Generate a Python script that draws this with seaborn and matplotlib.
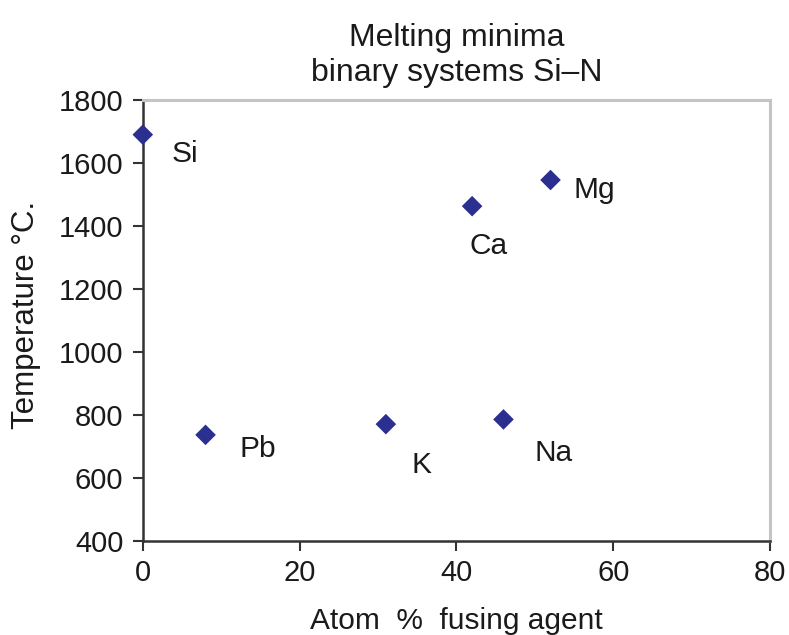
import matplotlib
matplotlib.use("Agg")
import matplotlib.pyplot as plt
import seaborn as sns
import pandas as pd

elements = ["Si", "Pb", "K", "Ca", "Na", "Mg"]
atom_pct = [0, 8, 31, 42, 46, 52]
temperature = [1690, 737, 771, 1463, 786, 1546]
label_offsets_px = [(42, -19), (52, -14), (36, -41), (16, -40), (50, -34), (44, -10)]
x_ticks = [0, 20, 40, 60, 80]
y_ticks = [400, 600, 800, 1000, 1200, 1400, 1600, 1800]

sns.set_style("ticks")
plt.rcParams['font.family'] = ['Liberation Sans', 'DejaVu Sans']

df = pd.DataFrame({"x": atom_pct, "y": temperature, "el": elements})

fig = plt.figure(figsize=(7.89, 6.35), dpi=100)
ax = fig.add_axes([0.181, 0.148, 0.795, 0.6945])
sns.scatterplot(data=df, x="x", y="y", marker="D", s=110, color="#2B2F8F",
                edgecolor="none", ax=ax, clip_on=False, zorder=5)

for el, x, y, (dx, dy) in zip(elements, atom_pct, temperature, label_offsets_px):
    ax.annotate(el, (x, y), xytext=(dx * 0.72, dy * 0.72), textcoords="offset points",
                ha="center", va="center", fontsize=21.5, color="#1a1a1a")

ax.set_xlim(0, 80)
ax.set_ylim(400, 1800)
ax.set_xticks(x_ticks)
ax.set_yticks(y_ticks)
ax.tick_params(labelsize=21, colors="#333333", labelcolor="#1a1a1a",
               length=7, width=1.5, direction="out")
ax.tick_params(axis="x", pad=6)
ax.tick_params(axis="y", pad=7)
for s in ["left", "bottom"]:
    ax.spines[s].set_color("#333333")
    ax.spines[s].set_linewidth(1.8)
for s in ["top", "right"]:
    ax.spines[s].set_visible(True)
    ax.spines[s].set_color("#c4c4c4")
    ax.spines[s].set_linewidth(2.2)

ax.set_xlabel("Atom  %  fusing agent", fontsize=21.5, color="#1a1a1a", labelpad=14)
ax.set_ylabel("Temperature \u00b0C.", fontsize=22.5, color="#1a1a1a")
ax.yaxis.set_label_coords(-0.162, 0.512)
ax.set_title("Melting minima\nbinary systems Si\u2013N", fontsize=23, color="#1a1a1a",
             pad=14, linespacing=1.2)

fig.savefig("out.png", dpi=100)
